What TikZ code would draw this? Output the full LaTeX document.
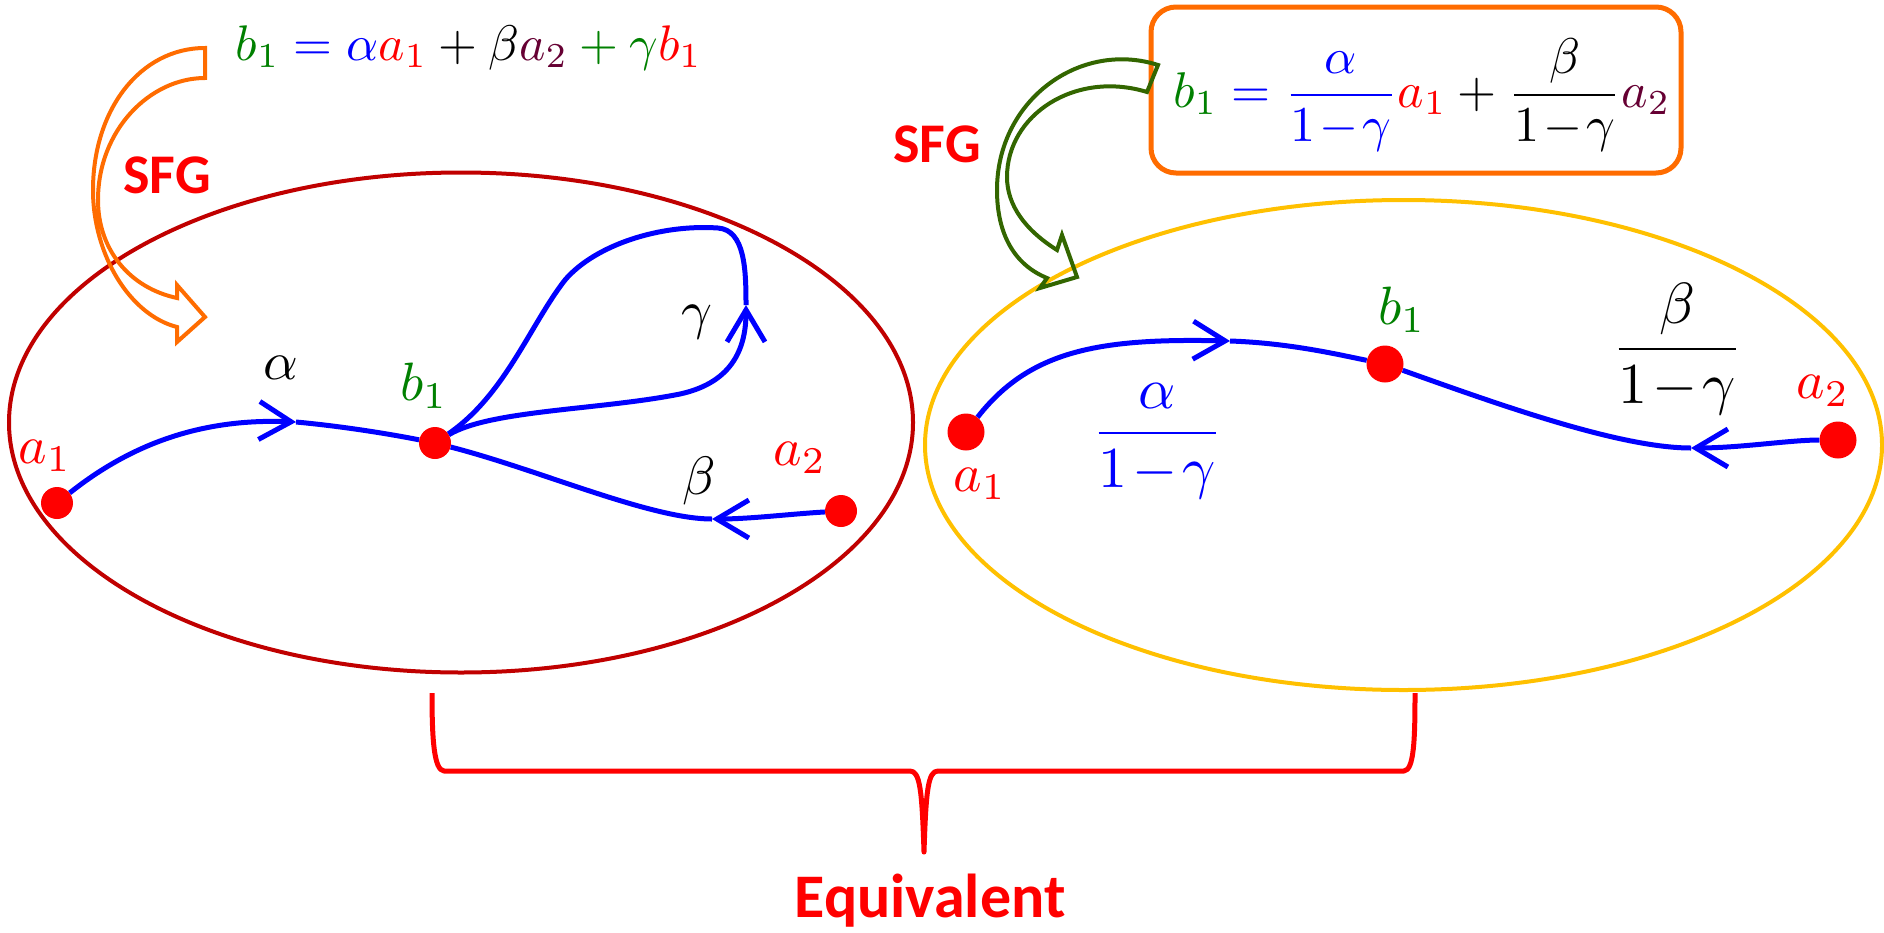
\documentclass[tikz,border=0pt]{standalone}
\usepackage[no-math]{fontspec}
\usepackage{amsmath}
\usepackage{graphicx}
\usetikzlibrary{arrows.meta}
\newfontfamily\carlito{Carlito}
\definecolor{dred}{RGB}{192,0,0}
\definecolor{yel}{RGB}{255,192,0}
\definecolor{myorange}{RGB}{255,108,0}
\definecolor{dgreen}{RGB}{51,102,0}
\definecolor{lgreen}{RGB}{0,128,0}
\definecolor{purp}{RGB}{102,0,51}
\definecolor{myblue}{RGB}{0,0,255}
\definecolor{myred}{RGB}{255,0,0}
\newcommand\mycol[2]{\textcolor{#1}{#2}}
\newcommand\lbl[1]{\scalebox{5.4}{$#1$}}
\newcommand\omg{1\mkern1.5mu{-}\mkern1.5mu\gamma}
\tikzset{
  dot/.style={circle,fill=myred,draw=none,minimum size=32pt,inner sep=0pt},
  dotR/.style={circle,fill=myred,draw=none,minimum size=37pt,inner sep=0pt},
  edge/.style={myblue,line width=5pt},
  barb/.style={-{Straight Barb[length=32pt,width=38pt]}},
  lab/.style={inner sep=0pt},
  sfg/.style={inner sep=0pt,text=myred,font=\carlito\bfseries\fontsize{56}{60}\selectfont},
  blockarrow/.style={line width=4pt,line join=miter},
}
\begin{document}
\begin{tikzpicture}[x=1pt,y=-1pt]
\useasboundingbox (0,0) rectangle (1884,932);
% ellipses
\draw[dred,line width=4pt] (461,422.5) ellipse [x radius=452pt,y radius=250pt];
\draw[yel,line width=4pt] (1403.5,445) ellipse [x radius=478.5pt,y radius=245pt];

% left graph
\node[dot] (la1) at (57,503) {};
\node[dot] (lb1) at (435,443) {};
\node[dot] (la2) at (841,511) {};
\coordinate (m1) at (296,422);
\coordinate (m2) at (712,519);
\coordinate (m3) at (746,305);
\draw[edge,barb] (la1) .. controls (130,445) and (200,418) .. (m1);
\draw[edge] (m1) .. controls (350,427) and (400,436) .. (lb1);
\draw[edge,barb] (la2) .. controls (790,514) and (750,519) .. (m2);
\draw[edge] (m2) .. controls (650,519) and (540,470) .. (lb1);
\draw[edge,barb] (lb1) .. controls (490,410) and (600,410) .. (680,394) .. controls (735,382) and (746,345) .. (m3);
\draw[edge] (m3) .. controls (746,270) and (745,230) .. (718,228) .. controls (660,224) and (595,245) .. (565,280) .. controls (530,325) and (505,395) .. (lb1);

\node[lab,myred] (la1l) at (45,456) {\lbl{a_1}};
\node[lab] (lal) at (281,368) {\lbl{\alpha}};
\node[lab,lgreen] (lb1l) at (424,386) {\lbl{b_1}};
\node[lab] (lgl) at (697,322) {\lbl{\gamma}};
\node[lab] (lbl) at (699,481) {\lbl{\beta}};
\node[lab,myred] (la2l) at (800,458) {\lbl{a_2}};

% right graph
\node[dotR] (ra1) at (966,432) {};
\node[dotR] (rb1) at (1385,364) {};
\node[dotR] (ra2) at (1838,440) {};
\coordinate (m4) at (1230,341);
\coordinate (m5) at (1691,448);
\draw[edge,barb] (ra1) .. controls (1030,350) and (1100,338) .. (m4);
\draw[edge] (m4) .. controls (1290,343) and (1340,355) .. (rb1);
\draw[edge,barb] (ra2) .. controls (1790,440) and (1740,448) .. (m5);
\draw[edge] (m5) .. controls (1620,448) and (1500,405) .. (rb1);

\node[lab,myred] (ra1l) at (980,484) {\lbl{a_1}};
\node[lab,lgreen] (rb1l) at (1402,310) {\lbl{b_1}};
\node[lab,myred] (ra2l) at (1823,391) {\lbl{a_2}};
\node[lab,myblue] (rfa) at (1157,441) {\scalebox{5.8}{$\dfrac{\alpha}{\omg}$}};
\node[lab] (rfb) at (1677,349) {\scalebox{5.8}{$\dfrac{\beta}{\omg}$}};

% equations
\node[inner sep=0pt,anchor=base] (eqL) at (469,60) {\resizebox{466pt}{!}{$\mycol{lgreen}{b_1}\mathrel{\mycol{myblue}{=}}\mycol{myblue}{\alpha}\mycol{myred}{a_1}+\beta\mycol{purp}{a_2}\mathbin{\mycol{lgreen}{+}}\mycol{lgreen}{\gamma}\mycol{myred}{b_1}$}};
\node[draw=myorange,line width=5pt,rounded corners=25pt,minimum width=530pt,minimum height=166pt,inner sep=0pt] (box) at (1416,90) {};
\node[inner sep=0pt] (eqR) at (1422,95) {\resizebox{497pt}{!}{$\mycol{lgreen}{b_1}\mathrel{\mycol{myblue}{=}}\mycol{myblue}{\dfrac{\alpha}{\omg}}\mycol{myred}{a_1}+\dfrac{\beta}{\omg}\mycol{purp}{a_2}$}};

% SFG labels
\node[sfg,anchor=base] (sfg1) at (167,193) {SFG};
\node[sfg,anchor=base] (sfg2) at (937,162) {SFG};

% block arrows
\draw[blockarrow,myorange] (205,48) .. controls (140,48) and (93,110) .. (93,190) .. controls (93,255) and (130,315) .. (177,327) -- (177,342) -- (205,317) -- (177,285) -- (177,298) .. controls (130,288) and (98,250) .. (98,200) .. controls (98,130) and (150,78) .. (205,78) -- cycle;
\draw[blockarrow,dgreen] (1158,65) .. controls (1080,40) and (997,100) .. (997,190) .. controls (997,235) and (1015,265) .. (1047,278) -- (1040,288) -- (1077,277) -- (1062,235) -- (1057,250) .. controls (1025,230) and (1007,205) .. (1007,177) .. controls (1007,115) and (1075,70) .. (1147,92) -- cycle;

% brace
\draw[myred,line width=5pt,line join=round] (432,693) .. controls (432,740) and (434,770) .. (444,771) -- (910,771) .. controls (920,771) and (922,790) .. (924,852) .. controls (926,790) and (928,771) .. (938,771) -- (1404,771) .. controls (1414,770) and (1415,740) .. (1415,693);
\node[sfg,anchor=base,font=\carlito\bfseries\fontsize{62}{66}\selectfont] (eqv) at (930,917) {Equivalent};
\end{tikzpicture}
\end{document}
